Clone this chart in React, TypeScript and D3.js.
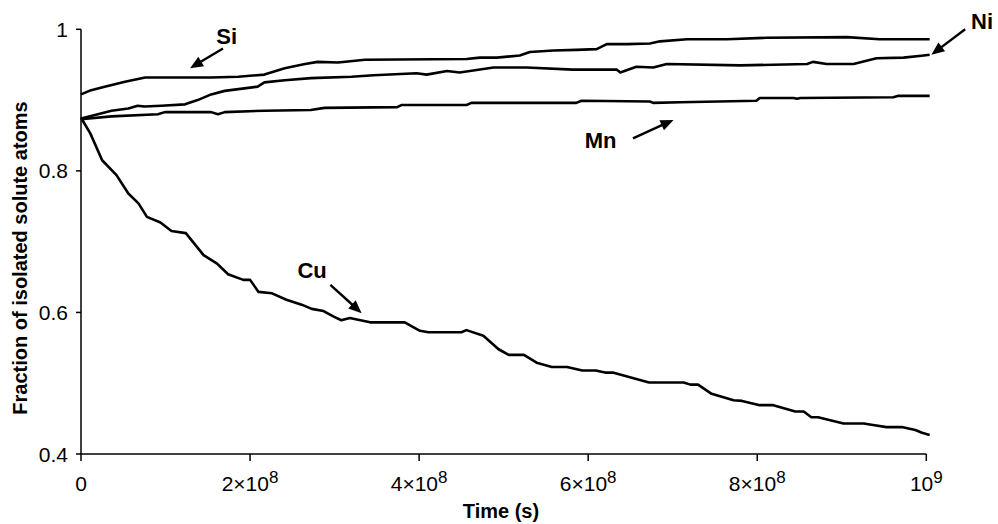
import React from "react";
import * as d3 from "d3";

// time in units of 10^8 s
const cuTime = [0, 0.11, 0.25, 0.42, 0.56, 0.68, 0.78, 0.94, 1.07, 1.24, 1.45, 1.61, 1.74, 1.92, 2.0, 2.1, 2.26, 2.43, 2.61, 2.73, 2.87, 2.99, 3.08, 3.18, 3.42, 3.83, 4.01, 4.11, 4.5, 4.56, 4.76, 4.94, 5.06, 5.24, 5.39, 5.57, 5.75, 5.93, 6.09, 6.2, 6.29, 6.72, 7.13, 7.21, 7.3, 7.46, 7.72, 7.82, 8.03, 8.19, 8.45, 8.55, 8.64, 8.72, 9.02, 9.26, 9.37, 9.53, 9.71, 9.87, 9.95, 10.04];
const cuFrac = [0.875, 0.853, 0.815, 0.794, 0.768, 0.754, 0.735, 0.727, 0.715, 0.712, 0.681, 0.669, 0.654, 0.646, 0.646, 0.629, 0.627, 0.618, 0.611, 0.605, 0.602, 0.594, 0.589, 0.592, 0.586, 0.586, 0.574, 0.572, 0.572, 0.575, 0.567, 0.548, 0.54, 0.54, 0.529, 0.523, 0.523, 0.518, 0.518, 0.515, 0.515, 0.501, 0.501, 0.498, 0.498, 0.485, 0.476, 0.475, 0.469, 0.469, 0.46, 0.46, 0.452, 0.452, 0.443, 0.443, 0.441, 0.438, 0.438, 0.434, 0.43, 0.427];

const siTime = [0, 0.12, 0.28, 0.52, 0.76, 1.54, 1.86, 2.17, 2.41, 2.65, 2.8, 3.04, 3.36, 4.56, 4.72, 4.92, 5.19, 5.31, 5.59, 5.86, 6.1, 6.22, 6.46, 6.73, 6.85, 7.17, 7.64, 8.11, 9.06, 9.45, 10.04];
const siFrac = [0.908, 0.914, 0.919, 0.926, 0.932, 0.932, 0.933, 0.936, 0.945, 0.951, 0.954, 0.953, 0.957, 0.958, 0.96, 0.96, 0.963, 0.968, 0.97, 0.971, 0.972, 0.979, 0.979, 0.98, 0.983, 0.986, 0.986, 0.988, 0.989, 0.986, 0.986];

const niTime = [0, 0.2, 0.36, 0.56, 0.67, 0.75, 0.95, 1.23, 1.38, 1.54, 1.7, 2.09, 2.17, 2.41, 2.72, 3.2, 3.46, 3.97, 4.09, 4.33, 4.48, 4.88, 5.27, 5.82, 6.34, 6.38, 6.57, 6.77, 6.93, 7.8, 8.59, 8.66, 8.82, 9.14, 9.41, 9.73, 9.97, 10.04];
const niFrac = [0.874, 0.88, 0.885, 0.888, 0.892, 0.891, 0.892, 0.894, 0.9, 0.908, 0.913, 0.919, 0.925, 0.928, 0.931, 0.933, 0.935, 0.938, 0.936, 0.941, 0.939, 0.946, 0.946, 0.943, 0.943, 0.939, 0.947, 0.946, 0.951, 0.949, 0.951, 0.954, 0.951, 0.951, 0.959, 0.96, 0.963, 0.964];

const mnTime = [0, 0.36, 0.91, 0.99, 1.54, 1.62, 1.7, 2.17, 2.72, 2.88, 3.74, 3.79, 4.56, 4.62, 5.86, 5.92, 6.73, 6.77, 7.09, 7.99, 8.03, 8.43, 8.47, 8.51, 9.61, 9.67, 10.04];
const mnFrac = [0.873, 0.877, 0.88, 0.883, 0.883, 0.88, 0.883, 0.885, 0.886, 0.889, 0.89, 0.893, 0.893, 0.896, 0.896, 0.899, 0.898, 0.896, 0.897, 0.899, 0.903, 0.903, 0.902, 0.903, 0.904, 0.906, 0.906];

const xTicks = [0, 2, 4, 6, 8, 10];
const xTickMain = ["0", "2×10", "4×10", "6×10", "8×10", "10"];
const xTickSup = ["", "8", "8", "8", "8", "9"];
const yTicks = [0.4, 0.6, 0.8, 1];
const yTickLabels = ["0.4", "0.6", "0.8", "1"];

// annotations: label position and arrow (tail -> tip), in data units
const labelNames = ["Si", "Ni", "Mn", "Cu"];
const labelAt = [[1.6, 0.979], [10.53, 1.001], [5.96, 0.832], [2.56, 0.648]];
const arrowFrom = [[1.68, 0.973], [10.46, 1.0], [6.53, 0.846], [2.95, 0.639]];
const arrowTo = [[1.29, 0.945], [10.06, 0.964], [7.01, 0.872], [3.32, 0.599]];

const W = 998;
const H = 524;
const font = "'Liberation Sans', Arial, sans-serif";

export default function App() {
  const x = d3.scaleLinear().domain([0, 10]).range([81, 926.3]);
  const y = d3.scaleLinear().domain([0.4, 1]).range([454, 29.3]);

  const line = d3
    .line<[number, number]>()
    .x((d) => x(d[0]))
    .y((d) => y(d[1]));

  const series = [
    [siTime, siFrac],
    [niTime, niFrac],
    [mnTime, mnFrac],
    [cuTime, cuFrac],
  ].map(([t, f]) => t.map((v, i) => [v, f[i]] as [number, number]));

  const arrow = (i: number) => {
    const x1 = x(arrowFrom[i][0]);
    const y1 = y(arrowFrom[i][1]);
    const x2 = x(arrowTo[i][0]);
    const y2 = y(arrowTo[i][1]);
    const a = Math.atan2(y2 - y1, x2 - x1);
    const len = 13;
    const half = 5.5;
    const bx = x2 - len * Math.cos(a);
    const by = y2 - len * Math.sin(a);
    const px = -Math.sin(a) * half;
    const py = Math.cos(a) * half;
    return (
      <g key={"a" + i}>
        <line x1={x1} y1={y1} x2={bx + 2 * Math.cos(a)} y2={by + 2 * Math.sin(a)} stroke="#000" strokeWidth={2.4} />
        <path d={`M${x2},${y2}L${bx + px},${by + py}L${bx - px},${by - py}Z`} fill="#000" />
      </g>
    );
  };

  return (
    <div style={{ position: "absolute", left: 0, top: 0 }}>
      <svg width={W} height={H} style={{ display: "block", background: "#fff" }} fontFamily={font}>
        {/* axes */}
        <line x1={x(0)} x2={x(0)} y1={y(1)} y2={y(0.4)} stroke="#000" strokeWidth={1.5} />
        <line x1={x(0)} x2={x(10)} y1={y(0.4)} y2={y(0.4)} stroke="#000" strokeWidth={1.5} />
        {yTicks.map((v, i) => (
          <g key={"y" + i}>
            <line x1={x(0) - 5} x2={x(0)} y1={y(v)} y2={y(v)} stroke="#000" strokeWidth={1.5} />
            <text x={68} y={y(v)} dy="0.36em" textAnchor="end" fontSize={21}>
              {yTickLabels[i]}
            </text>
          </g>
        ))}
        {xTicks.map((v, i) => (
          <g key={"x" + i}>
            <line x1={x(v)} x2={x(v)} y1={y(0.4)} y2={y(0.4) + 7} stroke="#000" strokeWidth={1.5} />
            <text x={x(v)} y={491} textAnchor="middle" fontSize={21}>
              {xTickMain[i]}
              {xTickSup[i] && (
                <tspan dy={-8} fontSize={17}>
                  {xTickSup[i]}
                </tspan>
              )}
            </text>
          </g>
        ))}

        {/* curves */}
        {series.map((pts, i) => (
          <path key={"s" + i} d={line(pts) || ""} fill="none" stroke="#000" strokeWidth={2.6} strokeLinejoin="round" />
        ))}

        {/* annotations */}
        {labelNames.map((n, i) => (
          <text key={"l" + i} x={x(labelAt[i][0])} y={y(labelAt[i][1])} fontSize={22} fontWeight="bold">
            {n}
          </text>
        ))}
        {labelNames.map((_, i) => arrow(i))}

        {/* axis titles */}
        <text x={501} y={518} textAnchor="middle" fontSize={20} fontWeight="bold">
          Time (s)
        </text>
        <text transform="translate(27,258) rotate(-90)" textAnchor="middle" fontSize={20} fontWeight="bold">
          Fraction of isolated solute atoms
        </text>
      </svg>
    </div>
  );
}
